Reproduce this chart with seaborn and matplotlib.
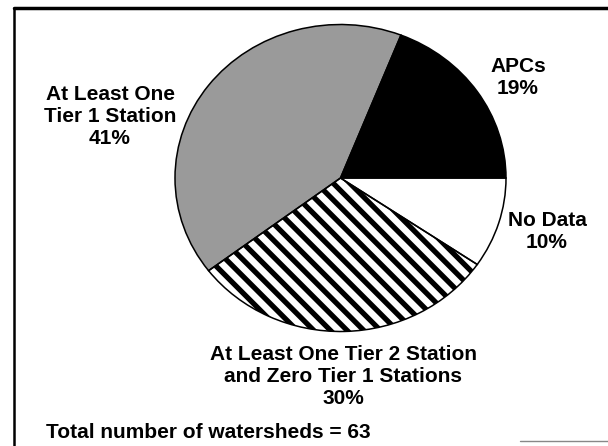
import matplotlib
matplotlib.use("Agg")
import matplotlib.pyplot as plt
from matplotlib.lines import Line2D
import seaborn as sns

# ---- data ----
categories = ["APCs", "At Least One Tier 1 Station",
              "At Least One Tier 2 Station and Zero Tier 1 Stations", "No Data"]
counts = [12, 26, 19, 6]          # watersheds (total 63)
percents = [19, 41, 30, 10]
label_texts = ["APCs\n19%",
               "At Least One\nTier 1 Station\n41%",
               "At Least One Tier 2 Station\nand Zero Tier 1 Stations\n30%",
               "No Data\n10%"]
total_text = "Total number of watersheds = 63"

sns.set_theme(style="white")
plt.rcParams["font.family"] = ["Liberation Sans", "DejaVu Sans"]
plt.rcParams["hatch.linewidth"] = 3.8

W, H = 608, 446
fig = plt.figure(figsize=(W / 100, H / 100), dpi=100)
fig.patch.set_facecolor("white")
ax = fig.add_axes([0, 0, 1, 1])

fills = sns.color_palette(["#000000", "#9a9a9a", "#ffffff", "#ffffff"])
hatches = [None, None, "\\\\", None]

wedges, _ = ax.pie(counts, startangle=0, counterclock=True, colors=fills,
                   wedgeprops=dict(linewidth=0, edgecolor="black"))
for w, h in zip(wedges, hatches):
    if h:
        w.set_hatch(h)
        w.set_edgecolor("black")
        w.set_linewidth(0)

outline, _ = ax.pie(counts, startangle=0, counterclock=True,
                    wedgeprops=dict(fill=False, linewidth=1.1, edgecolor="black"))

# pie geometry (pixels) -- set after pie() which forces equal aspect
cx, cy, rx, ry = 340.5, 178.0, 165.5, 153.5
ax.set_aspect("auto")
ax.set_xlim(-cx / rx, (W - cx) / rx)
ax.set_ylim((cy - H) / ry, cy / ry)
ax.set_axis_off()

# labels (pixel positions)
label_pos = [(518, 78), (110, 116), (343, 376), (547, 232)]
for txt, (px, py) in zip(label_texts, label_pos):
    fig.text(px / W, 1 - py / H, txt, ha="center", va="center",
             fontsize=15, fontweight="bold", linespacing=1.2, color="black")

fig.text(46 / W, 1 - 433 / H, total_text, ha="left", va="center",
         fontsize=15, fontweight="bold", color="black")

# frame
fig.add_artist(Line2D([14 / W, 1.0], [1 - 8 / H, 1 - 8 / H], color="black",
                      linewidth=2.5, transform=fig.transFigure))
fig.add_artist(Line2D([14 / W, 14 / W], [1 - 8 / H, 0], color="black",
                      linewidth=1.8, transform=fig.transFigure))
fig.add_artist(Line2D([520 / W, 1.0], [1 - 441 / H, 1 - 441 / H], color="#888888",
                      linewidth=1.0, transform=fig.transFigure))

fig.savefig("out.png", dpi=100, facecolor="white")
